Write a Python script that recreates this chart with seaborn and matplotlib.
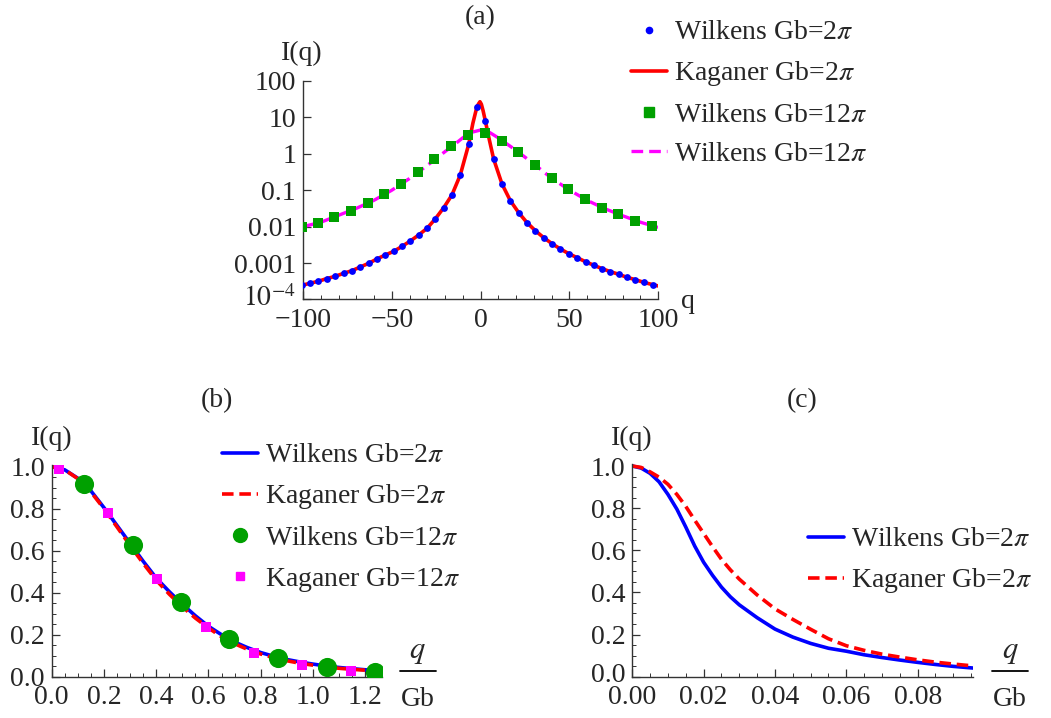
import numpy as np
import pandas as pd
import matplotlib
matplotlib.use("Agg")
import matplotlib.pyplot as plt
import matplotlib.transforms as mtransforms
import seaborn as sns
from matplotlib.lines import Line2D
from matplotlib.ticker import (FixedLocator, FixedFormatter, MultipleLocator, LogLocator,
                               NullFormatter, FormatStrFormatter)

# ---------------- data: panel (a) ----------------
a_wil2_q = [-100.8, -96.1, -91.4, -86.7, -81.8, -77.1, -72.4, -67.7, -63.0, -58.3, -53.6,
            -48.9, -44.2, -39.5, -34.8, -30.1, -25.5, -20.7, -16.1, -11.4, -6.6, -2.0,
            2.7, 7.4, 12.1, 16.8, 21.5, 26.2, 30.9, 35.6, 40.3, 45.0, 49.7, 54.4, 59.2,
            63.9, 68.5, 73.2, 77.9, 82.5, 87.2, 91.9, 97.0]
a_wil2_I = [2.45e-4, 2.79e-4, 3.16e-4, 3.74e-4, 4.34e-4, 5.24e-4, 6.19e-4, 7.82e-4, 9.86e-4,
            1.30e-3, 1.67e-3, 2.10e-3, 2.88e-3, 4.05e-3, 5.92e-3, 9.02e-3, 0.0163, 0.0333,
            0.0741, 0.262, 1.86, 19.7,
            8.13, 0.721, 0.149, 0.0518, 0.0243, 0.0129, 7.76e-3, 4.99e-3, 3.41e-3, 2.44e-3,
            1.82e-3, 1.41e-3, 1.09e-3, 8.69e-4, 7.03e-4, 5.81e-4, 4.92e-4, 4.06e-4, 3.51e-4,
            2.96e-4, 2.56e-4]
a_kag2_q = [-100.0, -96.1, -91.4, -86.7, -81.8, -77.1, -72.4, -67.7, -63.0, -58.3, -53.6,
            -48.9, -44.2, -39.5, -34.8, -30.1, -25.5, -20.7, -16.1, -11.4, -6.6, -4.3, -2.0,
            -1.0, -0.3, 0.5, 1.5, 2.7, 5.0, 7.4, 12.1, 16.8, 21.5, 26.2, 30.9, 35.6, 40.3,
            45.0, 49.7, 54.4, 59.2, 63.9, 68.5, 73.2, 77.9, 82.5, 87.2, 91.9, 97.0, 100.0]
a_kag2_I = [2.50e-4, 2.79e-4, 3.16e-4, 3.74e-4, 4.34e-4, 5.24e-4, 6.19e-4, 7.82e-4, 9.86e-4,
            1.30e-3, 1.67e-3, 2.10e-3, 2.88e-3, 4.05e-3, 5.92e-3, 9.02e-3, 0.0163, 0.0333,
            0.0741, 0.262, 1.86, 6.9, 19.7,
            24.0, 27.0, 23.0, 15.0, 8.13, 2.4, 0.721, 0.149, 0.0518, 0.0243, 0.0129, 7.76e-3,
            4.99e-3, 3.41e-3, 2.44e-3, 1.82e-3, 1.41e-3, 1.09e-3, 8.69e-4, 7.03e-4, 5.81e-4,
            4.92e-4, 4.06e-4, 3.51e-4, 2.96e-4, 2.56e-4, 2.36e-4]
a_wil12_pts_q = [-100.8, -91.4, -82.4, -73.0, -63.6, -54.2, -44.8, -35.4, -26.0, -16.6, -6.9,
                 2.5, 11.9, 21.3, 30.7, 40.1, 49.5, 58.9, 68.3, 77.6, 87.0, 96.5]
a_wil12_pts_I = [0.0095, 0.01236, 0.01884, 0.0270, 0.0438, 0.0774, 0.1486, 0.317, 0.721, 1.64,
                 3.29, 3.66, 2.30, 1.12, 0.484, 0.213, 0.106, 0.0564, 0.0333, 0.0219, 0.0146,
                 0.01045]
a_wil12_line_q = [-100, -90, -80, -70, -60, -50, -40, -30, -25, -20, -15, -10, -5, 0, 5, 10,
                  20, 30, 40, 50, 60, 70, 80, 90, 100]
a_wil12_line_I = [0.0100, 0.0132, 0.0205, 0.0318, 0.053, 0.100, 0.210, 0.48, 0.74, 1.15, 1.75,
                  2.75, 3.9, 4.5, 3.9, 2.75, 1.25, 0.53, 0.215, 0.102, 0.053, 0.0312, 0.0200,
                  0.0133, 0.0095]
a_xticks = [-100, -50, 0, 50, 100]
a_xticklabels = ["\u2212100", "\u221250", "0", "50", "100"]
a_yticks = [1e-4, 1e-3, 1e-2, 1e-1, 1, 10, 100]
a_yticklabels = ["$10^{-4}$", "0.001", "0.01", "0.1", "1", "10", "100"]

# ---------------- data: panel (b) ----------------
b_x = [0.0, 0.05, 0.10, 0.15, 0.20, 0.25, 0.30, 0.35, 0.40, 0.45, 0.50, 0.55, 0.60, 0.65,
       0.70, 0.75, 0.80, 0.85, 0.90, 0.95, 1.00, 1.05, 1.10, 1.15, 1.20, 1.25, 1.263]
b_wil2 = [1.0, 0.985, 0.945, 0.885, 0.805, 0.72, 0.635, 0.55, 0.47, 0.405, 0.345, 0.29, 0.24,
          0.20, 0.165, 0.138, 0.115, 0.097, 0.082, 0.070, 0.060, 0.051, 0.044, 0.038, 0.033,
          0.029, 0.028]
b_kag2 = [1.0, 0.985, 0.943, 0.88, 0.80, 0.713, 0.625, 0.54, 0.46, 0.393, 0.333, 0.279, 0.232,
          0.19, 0.157, 0.13, 0.108, 0.09, 0.076, 0.064, 0.055, 0.047, 0.040, 0.035, 0.031,
          0.028, 0.027]
b_wil12_x = [0.124, 0.310, 0.494, 0.680, 0.866, 1.053, 1.238]
b_wil12_y = [0.917, 0.625, 0.356, 0.179, 0.090, 0.046, 0.024]
b_kag12_x = [0.029, 0.217, 0.403, 0.589, 0.773, 0.959, 1.146]
b_kag12_y = [0.987, 0.778, 0.465, 0.235, 0.111, 0.0556, 0.0286]

# ---------------- data: panel (c) ----------------
c_x = [0.0, 0.0025, 0.005, 0.0075, 0.01, 0.0125, 0.015, 0.0175, 0.02, 0.0225, 0.025, 0.0275,
       0.03, 0.035, 0.04, 0.045, 0.05, 0.055, 0.06, 0.065, 0.07, 0.075, 0.08, 0.085, 0.09,
       0.0956]
c_wil2 = [1.0, 0.99, 0.965, 0.925, 0.865, 0.795, 0.71, 0.62, 0.543, 0.481, 0.425, 0.379,
          0.341, 0.28, 0.226, 0.188, 0.158, 0.135, 0.121, 0.104, 0.091, 0.079, 0.068, 0.058,
          0.049, 0.041]
c_kag2 = [1.0, 0.993, 0.972, 0.947, 0.913, 0.865, 0.808, 0.743, 0.68, 0.617, 0.557, 0.507,
          0.463, 0.388, 0.322, 0.272, 0.225, 0.18, 0.147, 0.125, 0.107, 0.093, 0.080, 0.069,
          0.060, 0.051]

lab_w2 = "Wilkens Gb=2$\\pi$"
lab_k2 = "Kaganer Gb=2$\\pi$"
lab_w12 = "Wilkens Gb=12$\\pi$"
lab_k12 = "Kaganer Gb=12$\\pi$"

BLUE = "#0000ff"
RED = "#ff0000"
GREEN = "#00a000"
MAGENTA = "#ff00ff"
AXC = "#333333"

sns.set_style("ticks")
plt.rcParams["font.family"] = ["Liberation Serif", "DejaVu Serif"]
plt.rcParams["mathtext.fontset"] = "stix"
FS = 20

W, H = 1051, 718
fig = plt.figure(figsize=(W / 100, H / 100), dpi=100)


def fx(px):
    return px / W


def fy(py):
    return 1 - py / H


def style_axes(ax):
    for s in ["top", "right"]:
        ax.spines[s].set_visible(False)
    for s in ["left", "bottom"]:
        ax.spines[s].set_color(AXC)
        ax.spines[s].set_linewidth(1.0)
    ax.tick_params(which="major", direction="in", length=6, width=0.9, color=AXC,
                   labelsize=FS)
    ax.tick_params(which="minor", direction="in", length=3, width=0.7, color=AXC)
    ax.tick_params(axis="x", which="major", pad=6)
    ax.tick_params(axis="y", which="major", pad=5)
    ax.grid(False)


# ---------------- panel (a) ----------------
ax_a = fig.add_axes([fx(303), fy(299.5), fx(355), 218.5 / H])
sns.lineplot(x=a_wil12_line_q, y=a_wil12_line_I, ax=ax_a, color=MAGENTA, lw=2.4,
             linestyle=(0, (3.5, 1.8)), estimator=None, sort=False)
sns.lineplot(x=a_kag2_q, y=a_kag2_I, ax=ax_a, color=RED, lw=2.6, estimator=None, sort=False)
sns.scatterplot(x=a_wil12_pts_q, y=a_wil12_pts_I, ax=ax_a, color=GREEN, marker="s", s=55,
                linewidth=0, zorder=3)
sns.scatterplot(x=a_wil2_q, y=a_wil2_I, ax=ax_a, color=BLUE, marker="o", s=24, linewidth=0,
                zorder=4)
ax_a.set_yscale("log")
ax_a.set_xlim(-100, 100)
ax_a.set_ylim(1e-4, 100)
ax_a.xaxis.set_major_locator(FixedLocator(a_xticks))
ax_a.xaxis.set_major_formatter(FixedFormatter(a_xticklabels))
ax_a.xaxis.set_minor_locator(MultipleLocator(10))
ax_a.yaxis.set_major_locator(FixedLocator(a_yticks))
ax_a.yaxis.set_major_formatter(FixedFormatter(a_yticklabels))
ax_a.yaxis.set_minor_locator(LogLocator(base=10, subs=np.arange(2, 10)))
ax_a.yaxis.set_minor_formatter(NullFormatter())
style_axes(ax_a)

# ---------------- panel (b) ----------------
ax_b = fig.add_axes([fx(51.7), fy(676.7), fx(330), 1.01 * 210 / H])
sns.lineplot(x=b_x, y=b_wil2, ax=ax_b, color=BLUE, lw=2.6, estimator=None, sort=False)
sns.lineplot(x=b_x, y=b_kag2, ax=ax_b, color=RED, lw=2.6, linestyle=(0, (3.2, 1.6)),
             estimator=None, sort=False)
sns.scatterplot(x=b_wil12_x, y=b_wil12_y, ax=ax_b, color=GREEN, marker="o", s=190,
                linewidth=0, zorder=3)
sns.scatterplot(x=b_kag12_x, y=b_kag12_y, ax=ax_b, color=MAGENTA, marker="s", s=60,
                linewidth=0, zorder=4)
ax_b.set_xlim(0, 1.263)
ax_b.set_ylim(0, 1.01)
ax_b.xaxis.set_major_locator(MultipleLocator(0.2))
ax_b.xaxis.set_minor_locator(MultipleLocator(0.05))
ax_b.yaxis.set_major_locator(MultipleLocator(0.2))
ax_b.yaxis.set_minor_locator(MultipleLocator(0.05))
ax_b.xaxis.set_major_formatter(FormatStrFormatter("%.1f"))
ax_b.yaxis.set_major_formatter(FormatStrFormatter("%.1f"))
style_axes(ax_b)

# ---------------- panel (c) ----------------
ax_c = fig.add_axes([fx(632.3), fy(676.7), fx(341), 1.01 * 210.7 / H])
sns.lineplot(x=c_x, y=c_wil2, ax=ax_c, color=BLUE, lw=2.6, estimator=None, sort=False)
sns.lineplot(x=c_x, y=c_kag2, ax=ax_c, color=RED, lw=2.6, linestyle=(0, (3.2, 1.6)),
             estimator=None, sort=False)
ax_c.set_xlim(0, 0.0956)
ax_c.set_ylim(0, 1.01)
ax_c.xaxis.set_major_locator(MultipleLocator(0.02))
ax_c.xaxis.set_minor_locator(MultipleLocator(0.005))
ax_c.yaxis.set_major_locator(MultipleLocator(0.2))
ax_c.yaxis.set_minor_locator(MultipleLocator(0.05))
ax_c.xaxis.set_major_formatter(FormatStrFormatter("%.2f"))
ax_c.yaxis.set_major_formatter(FormatStrFormatter("%.1f"))
style_axes(ax_c)

for ax in (ax_a, ax_b, ax_c):
    if ax.get_legend() is not None:
        ax.get_legend().remove()

# ---------------- titles and axis labels ----------------
fig.text(fx(480.5), fy(18), "(a)", ha="center", va="center", fontsize=FS)
fig.text(fx(217), fy(401), "(b)", ha="center", va="center", fontsize=FS)
fig.text(fx(802.5), fy(401), "(c)", ha="center", va="center", fontsize=FS)

for xpx, ypx in [(302, 53), (52, 438), (632, 438)]:
    fig.text(fx(xpx), fy(ypx), "I(q)", ha="center", va="center", fontsize=FS)

fig.text(fx(688), fy(301), "q", ha="center", va="center", fontsize=FS)

for xc in (417.5, 1010):
    fig.text(fx(xc), fy(651), "$q$", ha="center", va="center", fontsize=FS + 2)
    fig.add_artist(Line2D([fx(xc - 18), fx(xc + 18)], [fy(671), fy(671)],
                          color="black", lw=1.3, transform=fig.transFigure))
    fig.text(fx(xc), fy(700), "Gb", ha="center", va="center", fontsize=FS)

# ---------------- legends ----------------
leg_kw = dict(frameon=False, fontsize=FS, handlelength=1.3, handletextpad=0.25,
              labelspacing=0.5, borderpad=0, borderaxespad=0, loc="upper left",
              bbox_transform=fig.transFigure)

h_a = [Line2D([], [], color=BLUE, marker="o", ls="none", markersize=4.5),
       Line2D([], [], color=RED, lw=2.6),
       Line2D([], [], color=GREEN, marker="s", ls="none", markersize=7),
       Line2D([], [], color=MAGENTA, lw=2.4, ls=(0, (3.5, 1.8)))]
fig.legend(h_a, [lab_w2, lab_k2, lab_w12, lab_w12], bbox_to_anchor=(fx(631), fy(20)),
           **leg_kw)

h_b = [Line2D([], [], color=BLUE, lw=2.6),
       Line2D([], [], color=RED, lw=2.6, ls=(0, (3.2, 1.6))),
       Line2D([], [], color=GREEN, marker="o", ls="none", markersize=10),
       Line2D([], [], color=MAGENTA, marker="s", ls="none", markersize=6)]
fig.legend(h_b, [lab_w2, lab_k2, lab_w12, lab_k12], bbox_to_anchor=(fx(222), fy(443)),
           **leg_kw)

h_c = [Line2D([], [], color=BLUE, lw=2.6),
       Line2D([], [], color=RED, lw=2.6, ls=(0, (3.2, 1.6)))]
fig.legend(h_c, [lab_w2, lab_k2], bbox_to_anchor=(fx(808), fy(527)), **leg_kw)

# nudge the lowest visible y tick label of (a) and (c) slightly up so it clears the x labels
fig.canvas.draw()
nudge = mtransforms.ScaledTranslation(0, 3 / 72, fig.dpi_scale_trans)
for ax, low in ((ax_a, 1e-4), (ax_c, 0.0)):
    for tick in ax.yaxis.get_major_ticks():
        if abs(tick.get_loc() - low) < 1e-9:
            tick.label1.set_transform(tick.label1.get_transform() + nudge)

fig.savefig("out.png", dpi=100)
